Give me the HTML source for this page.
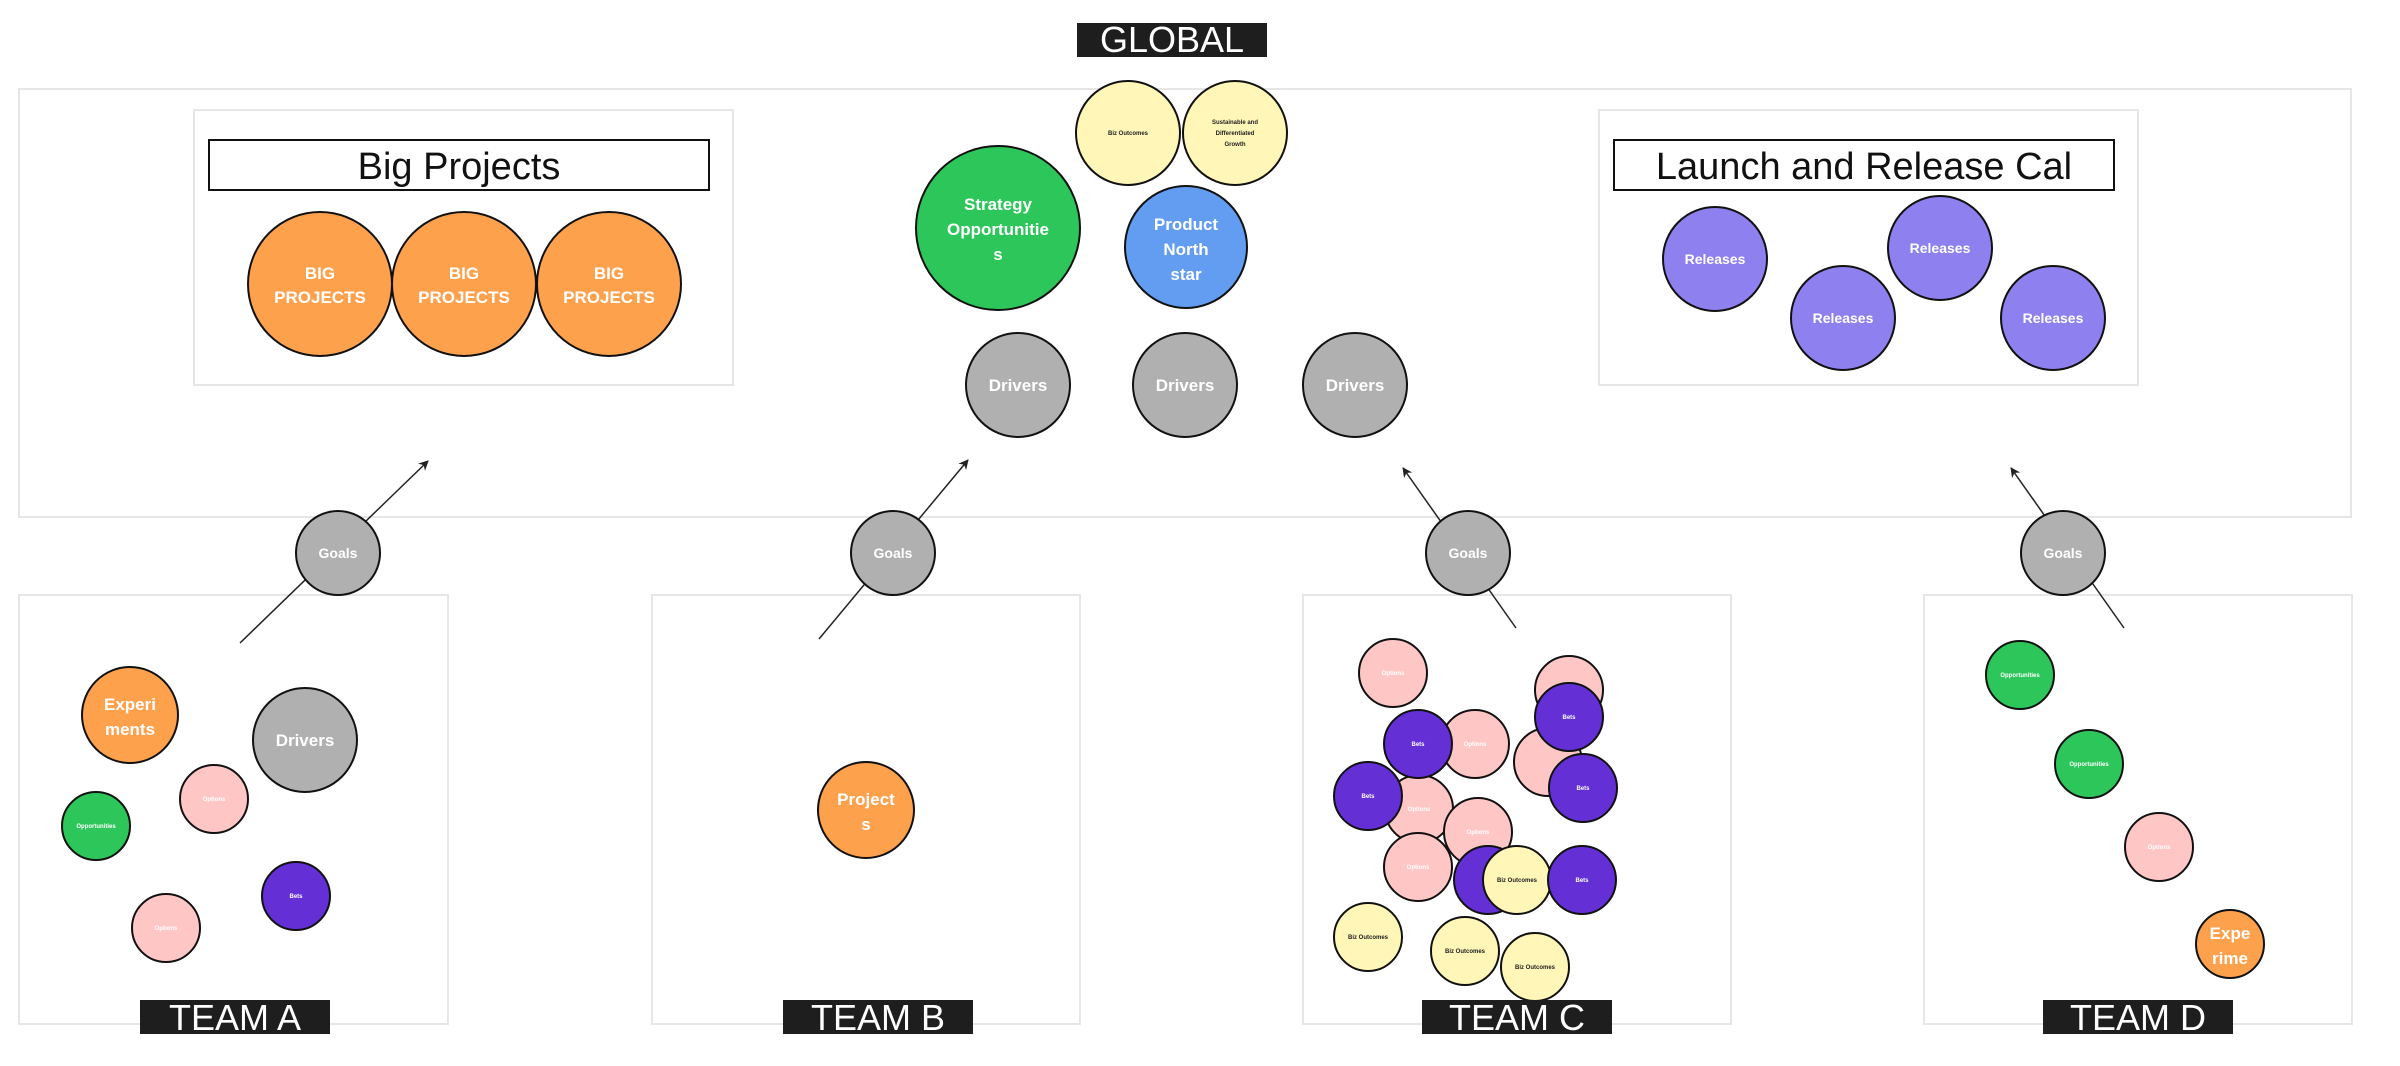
<!DOCTYPE html>
<html><head><meta charset="utf-8"><style>
html,body{margin:0;padding:0;background:#fff;}
svg{display:block;}
text{font-family:"Liberation Sans",sans-serif;}
</style></head><body>
<svg width="2400" height="1066" viewBox="0 0 2400 1066" xmlns="http://www.w3.org/2000/svg">
<defs>
<marker id="ah" markerWidth="10" markerHeight="10" refX="9" refY="5" orient="auto" markerUnits="userSpaceOnUse">
<path d="M0,0 L10,5 L0,10 L3,5 Z" fill="#222"/>
</marker>
</defs>
<!-- containers -->
<rect x="19" y="89" width="2332" height="428" fill="#fff" stroke="#e6e6e6" stroke-width="2"/>
<rect x="194" y="110" width="539" height="275" fill="#fff" stroke="#e6e6e6" stroke-width="2"/>
<rect x="1599" y="110" width="539" height="275" fill="#fff" stroke="#e6e6e6" stroke-width="2"/>
<rect x="19" y="595" width="429" height="429" fill="#fff" stroke="#e6e6e6" stroke-width="2"/>
<rect x="652" y="595" width="428" height="429" fill="#fff" stroke="#e6e6e6" stroke-width="2"/>
<rect x="1303" y="595" width="428" height="429" fill="#fff" stroke="#e6e6e6" stroke-width="2"/>
<rect x="1924" y="595" width="428" height="429" fill="#fff" stroke="#e6e6e6" stroke-width="2"/>

<!-- GLOBAL label -->
<rect x="1077" y="23" width="190" height="34" fill="#1e1e1e"/>
<text x="1172" y="52" font-size="36" fill="#fff" text-anchor="middle">GLOBAL</text>

<!-- title boxes -->
<rect x="209" y="140" width="500" height="50" fill="#fff" stroke="#111" stroke-width="2"/>
<text x="459" y="179" font-size="38" fill="#111" text-anchor="middle">Big Projects</text>
<rect x="1614" y="140" width="500" height="50" fill="#fff" stroke="#111" stroke-width="2"/>
<text x="1864" y="179" font-size="38" fill="#111" text-anchor="middle">Launch and Release Cal</text>

<!-- arrows -->
<g stroke="#222" stroke-width="1.5" fill="none" marker-end="url(#ah)">
<line x1="240" y1="643" x2="428" y2="461"/>
<line x1="819" y1="639" x2="968" y2="460"/>
<line x1="1516" y1="628" x2="1403" y2="468"/>
<line x1="2124" y1="628" x2="2011" y2="468"/>
</g>

<g stroke="#111" stroke-width="2" font-weight="bold" text-anchor="middle">
<!-- big projects -->
<circle cx="320" cy="284" r="72" fill="#fda14d"/>
<circle cx="464" cy="284" r="72" fill="#fda14d"/>
<circle cx="609" cy="284" r="72" fill="#fda14d"/>
<!-- global center -->
<circle cx="1128" cy="133" r="52" fill="#fff6b8"/>
<circle cx="1235" cy="133" r="52" fill="#fff6b8"/>
<circle cx="998" cy="228" r="82" fill="#2dc65a"/>
<circle cx="1186" cy="247" r="61" fill="#629df2"/>
<circle cx="1018" cy="385" r="52" fill="#b0b0b0"/>
<circle cx="1185" cy="385" r="52" fill="#b0b0b0"/>
<circle cx="1355" cy="385" r="52" fill="#b0b0b0"/>
<!-- releases -->
<circle cx="1715" cy="259" r="52" fill="#8f80ef"/>
<circle cx="1843" cy="318" r="52" fill="#8f80ef"/>
<circle cx="1940" cy="248" r="52" fill="#8f80ef"/>
<circle cx="2053" cy="318" r="52" fill="#8f80ef"/>
<!-- goals -->
<circle cx="338" cy="553" r="42" fill="#b0b0b0"/>
<circle cx="893" cy="553" r="42" fill="#b0b0b0"/>
<circle cx="1468" cy="553" r="42" fill="#b0b0b0"/>
<circle cx="2063" cy="553" r="42" fill="#b0b0b0"/>
<!-- team A -->
<circle cx="130" cy="715" r="48" fill="#fda14d"/>
<circle cx="305" cy="740" r="52" fill="#b0b0b0"/>
<circle cx="214" cy="799" r="34" fill="#ffc6c6"/>
<circle cx="96" cy="826" r="34" fill="#2dc65a"/>
<circle cx="296" cy="896" r="34" fill="#6430d6"/>
<circle cx="166" cy="928" r="34" fill="#ffc6c6"/>
<!-- team B -->
<circle cx="866" cy="810" r="48" fill="#fda14d"/>
<!-- team C -->
<circle cx="1393" cy="673" r="34" fill="#ffc6c6"/>
<circle cx="1569" cy="690" r="34" fill="#ffc6c6"/>
<circle cx="1548" cy="762" r="34" fill="#ffc6c6"/>
<circle cx="1569" cy="717" r="34" fill="#6430d6"/>
<circle cx="1583" cy="788" r="34" fill="#6430d6"/>
<circle cx="1475" cy="744" r="34" fill="#ffc6c6"/>
<circle cx="1419" cy="809" r="34" fill="#ffc6c6"/>
<circle cx="1418" cy="744" r="34" fill="#6430d6"/>
<circle cx="1368" cy="796" r="34" fill="#6430d6"/>
<circle cx="1478" cy="832" r="34" fill="#ffc6c6"/>
<circle cx="1418" cy="867" r="34" fill="#ffc6c6"/>
<circle cx="1488" cy="880" r="34" fill="#6430d6"/>
<circle cx="1517" cy="880" r="34" fill="#fff6b8"/>
<circle cx="1582" cy="880" r="34" fill="#6430d6"/>
<circle cx="1368" cy="937" r="34" fill="#fff6b8"/>
<circle cx="1465" cy="951" r="34" fill="#fff6b8"/>
<circle cx="1535" cy="967" r="34" fill="#fff6b8"/>
<!-- team D -->
<circle cx="2020" cy="675" r="34" fill="#2dc65a"/>
<circle cx="2089" cy="764" r="34" fill="#2dc65a"/>
<circle cx="2159" cy="847" r="34" fill="#ffc6c6"/>
<circle cx="2230" cy="944" r="34" fill="#fda14d"/>
</g>

<g font-weight="bold" text-anchor="middle" fill="#fff">
<g font-size="17">
<text x="320" y="279">BIG</text><text x="320" y="303">PROJECTS</text>
<text x="464" y="279">BIG</text><text x="464" y="303">PROJECTS</text>
<text x="609" y="279">BIG</text><text x="609" y="303">PROJECTS</text>
<text x="998" y="210">Strategy</text><text x="998" y="235">Opportunitie</text><text x="998" y="260">s</text>
<text x="1186" y="230">Product</text><text x="1186" y="255">North</text><text x="1186" y="280">star</text>
<text x="1018" y="391">Drivers</text><text x="1185" y="391">Drivers</text><text x="1355" y="391">Drivers</text>
<text x="305" y="746">Drivers</text>
<text x="130" y="710">Experi</text><text x="130" y="735">ments</text>
<text x="866" y="805">Project</text><text x="866" y="830">s</text>
<text x="2230" y="939">Expe</text><text x="2230" y="964">rime</text>
</g>
<g font-size="14">
<text x="1715" y="264">Releases</text><text x="1843" y="323">Releases</text>
<text x="1940" y="253">Releases</text><text x="2053" y="323">Releases</text>
<text x="338" y="558">Goals</text><text x="893" y="558">Goals</text>
<text x="1468" y="558">Goals</text><text x="2063" y="558">Goals</text>
</g>
<g font-size="6">
<text x="214" y="801">Options</text><text x="166" y="930">Options</text>
<text x="96" y="828">Opportunities</text><text x="296" y="898">Bets</text>
<text x="1393" y="675">Options</text><text x="1475" y="746">Options</text>
<text x="1419" y="811">Options</text><text x="1478" y="834">Options</text><text x="1418" y="869">Options</text>
<text x="1569" y="719">Bets</text><text x="1583" y="790">Bets</text><text x="1418" y="746">Bets</text>
<text x="1368" y="798">Bets</text><text x="1582" y="882">Bets</text>
<text x="2020" y="677">Opportunities</text><text x="2089" y="766">Opportunities</text>
<text x="2159" y="849">Options</text>
</g>
<g font-size="6" fill="#222">
<text x="1128" y="135">Biz Outcomes</text>
<text x="1235" y="124">Sustainable and</text><text x="1235" y="135">Differentiated</text><text x="1235" y="146">Growth</text>
<text x="1517" y="882">Biz Outcomes</text><text x="1368" y="939">Biz Outcomes</text>
<text x="1465" y="953">Biz Outcomes</text><text x="1535" y="969">Biz Outcomes</text>
</g>
</g>

<!-- team labels -->
<rect x="140" y="1000" width="190" height="34" fill="#1e1e1e"/>
<text x="235" y="1030" font-size="36" fill="#fff" text-anchor="middle">TEAM A</text>
<rect x="783" y="1000" width="190" height="34" fill="#1e1e1e"/>
<text x="878" y="1030" font-size="36" fill="#fff" text-anchor="middle">TEAM B</text>
<rect x="1422" y="1000" width="190" height="34" fill="#1e1e1e"/>
<text x="1517" y="1030" font-size="36" fill="#fff" text-anchor="middle">TEAM C</text>
<rect x="2043" y="1000" width="190" height="34" fill="#1e1e1e"/>
<text x="2138" y="1030" font-size="36" fill="#fff" text-anchor="middle">TEAM D</text>
</svg>
</body></html>
